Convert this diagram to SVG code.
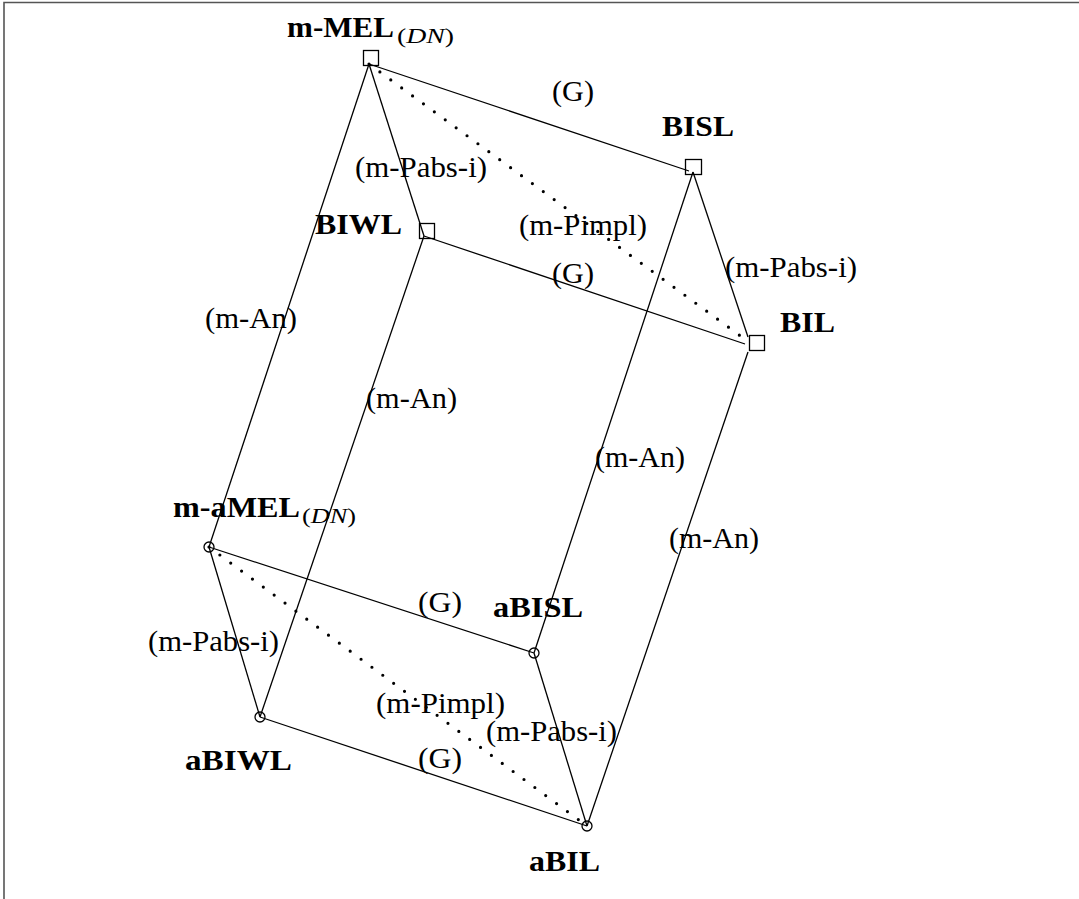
<svg xmlns="http://www.w3.org/2000/svg" width="1079" height="899" viewBox="0 0 1079 899">
<style>
.e{stroke:#000;stroke-width:1.3;fill:none}
.d{stroke:#000;stroke-width:3.2;fill:none;stroke-dasharray:0 13.5;stroke-linecap:round}
.n{stroke:#000;stroke-width:1.3;fill:none}
.l{font-family:"Liberation Serif","DejaVu Serif",serif;font-size:29px;fill:#000}
.b{font-family:"Liberation Serif","DejaVu Serif",serif;font-size:30px;font-weight:bold;fill:#000}
.s{font-family:"Liberation Serif","DejaVu Serif",serif;font-size:22px;fill:#000}
.i{font-style:italic}
</style>
<rect x="0" y="0" width="1079" height="899" fill="#fff"/>
<path d="M4 899 V2.5 H1079" stroke="#555" stroke-width="1.6" fill="none"/>
<g id="connectors">
<line class="e" x1="369" y1="64" x2="689" y2="171"/>
<line class="d" x1="369" y1="64" x2="746" y2="340"/>
<line class="e" x1="369" y1="64" x2="424" y2="236"/>
<line class="e" x1="369" y1="64" x2="209" y2="547"/>
<line class="e" x1="424" y1="236" x2="745" y2="344"/>
<line class="e" x1="424" y1="236" x2="260" y2="717"/>
<line class="e" x1="693" y1="172" x2="748" y2="337"/>
<line class="e" x1="693" y1="172" x2="534" y2="653"/>
<line class="e" x1="748" y1="352" x2="587" y2="826"/>
<line class="e" x1="209" y1="547" x2="534" y2="653"/>
<line class="e" x1="209" y1="547" x2="260" y2="717"/>
<line class="d" x1="209" y1="547" x2="587" y2="826"/>
<line class="e" x1="260" y1="717" x2="587" y2="826"/>
<line class="e" x1="534" y1="653" x2="587" y2="826"/>
<text class="l" x="552" y="101" textLength="42" lengthAdjust="spacingAndGlyphs">(G)</text>
<text class="l" x="355" y="177" textLength="132" lengthAdjust="spacingAndGlyphs">(m-Pabs-i)</text>
<text class="l" x="519" y="235" textLength="128" lengthAdjust="spacingAndGlyphs">(m-Pimpl)</text>
<text class="l" x="552" y="283" textLength="42" lengthAdjust="spacingAndGlyphs">(G)</text>
<text class="l" x="725" y="277" textLength="132" lengthAdjust="spacingAndGlyphs">(m-Pabs-i)</text>
<text class="l" x="205" y="328" textLength="92" lengthAdjust="spacingAndGlyphs">(m-An)</text>
<text class="l" x="366" y="408" textLength="91" lengthAdjust="spacingAndGlyphs">(m-An)</text>
<text class="l" x="595" y="467" textLength="90" lengthAdjust="spacingAndGlyphs">(m-An)</text>
<text class="l" x="669" y="548" textLength="90" lengthAdjust="spacingAndGlyphs">(m-An)</text>
<text class="l" x="418" y="612" textLength="44" lengthAdjust="spacingAndGlyphs">(G)</text>
<text class="l" x="148" y="651" textLength="131" lengthAdjust="spacingAndGlyphs">(m-Pabs-i)</text>
<text class="l" x="376" y="713" textLength="129" lengthAdjust="spacingAndGlyphs">(m-Pimpl)</text>
<text class="l" x="486" y="741" textLength="131" lengthAdjust="spacingAndGlyphs">(m-Pabs-i)</text>
<text class="l" x="418" y="768" textLength="44" lengthAdjust="spacingAndGlyphs">(G)</text>
</g>
<g id="mMEL">
<rect class="n" x="363.5" y="50.5" width="15" height="15"/>
<text class="b" x="287" y="37" textLength="107" lengthAdjust="spacingAndGlyphs">m-MEL</text>
<text class="s" x="397" y="43" textLength="57" lengthAdjust="spacingAndGlyphs">(<tspan class="i">DN</tspan>)</text>
</g>
<g id="BISL">
<rect class="n" x="685.5" y="159.5" width="16" height="15"/>
<text class="b" x="662" y="136" textLength="72" lengthAdjust="spacingAndGlyphs">BISL</text>
</g>
<g id="BIWL">
<rect class="n" x="419.5" y="223.5" width="15" height="15"/>
<text class="b" x="315" y="234" textLength="87" lengthAdjust="spacingAndGlyphs">BIWL</text>
</g>
<g id="BIL">
<rect class="n" x="749.5" y="335.5" width="15" height="15"/>
<text class="b" x="780" y="332" textLength="55" lengthAdjust="spacingAndGlyphs">BIL</text>
</g>
<g id="maMEL">
<circle class="n" cx="209" cy="547" r="5"/>
<text class="b" x="173" y="517" textLength="127" lengthAdjust="spacingAndGlyphs">m-aMEL</text>
<text class="s" x="302" y="523" textLength="54" lengthAdjust="spacingAndGlyphs">(<tspan class="i">DN</tspan>)</text>
</g>
<g id="aBISL">
<circle class="n" cx="534" cy="653" r="5"/>
<text class="b" x="493" y="617" textLength="90" lengthAdjust="spacingAndGlyphs">aBISL</text>
</g>
<g id="aBIWL">
<circle class="n" cx="260" cy="717" r="5"/>
<text class="b" x="185" y="770" textLength="107" lengthAdjust="spacingAndGlyphs">aBIWL</text>
</g>
<g id="aBIL">
<circle class="n" cx="587" cy="826" r="5"/>
<text class="b" x="529" y="871" textLength="71" lengthAdjust="spacingAndGlyphs">aBIL</text>
</g>
</svg>
